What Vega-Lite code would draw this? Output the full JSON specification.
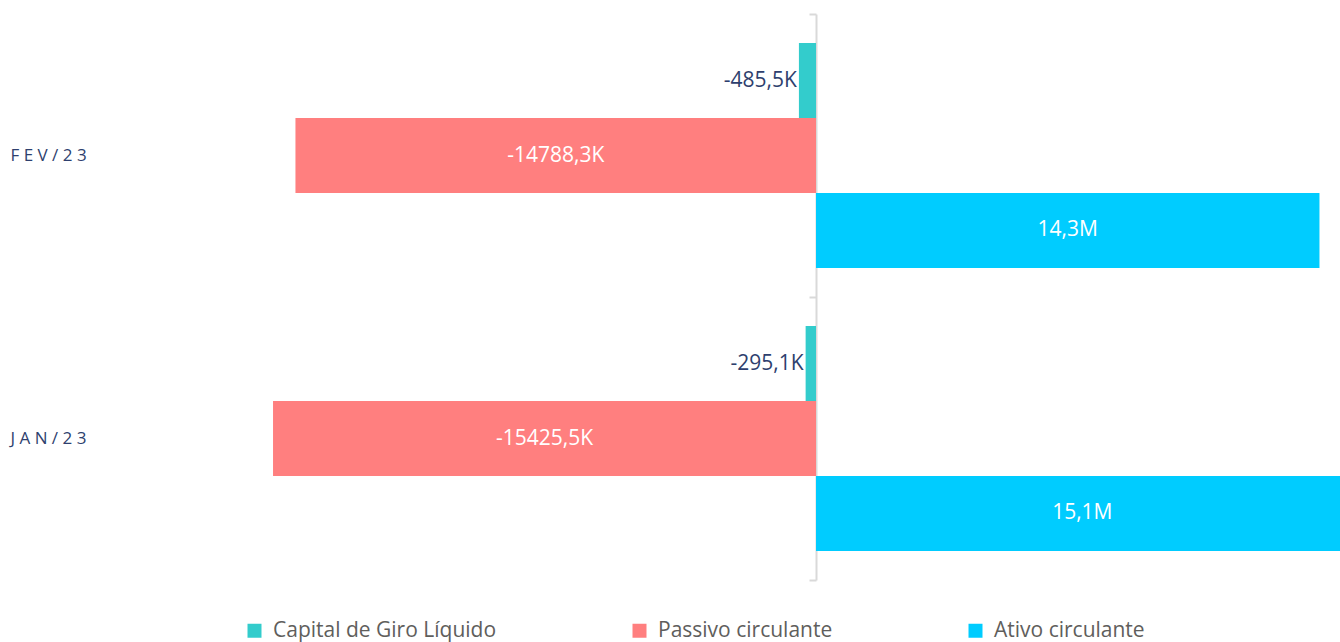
{
  "$schema": "https://vega.github.io/schema/vega-lite/v6.json",
  "autosize": "none",
  "padding": {"left": 100, "top": 14, "right": 0, "bottom": 62},
  "width": 1240,
  "height": 566,
  "background": "white",
  "config": {
    "view": {"stroke": null},
    "font": "Open Sans"
  },
  "data": {
    "values": [
      {"periodo": "FEV/23", "serie": "Capital de Giro Líquido", "valor": -485500, "rotulo": "-485,5K"},
      {"periodo": "FEV/23", "serie": "Passivo circulante", "valor": -14788300, "rotulo": "-14788,3K"},
      {"periodo": "FEV/23", "serie": "Ativo circulante", "valor": 14302800, "rotulo": "14,3M"},
      {"periodo": "JAN/23", "serie": "Capital de Giro Líquido", "valor": -295100, "rotulo": "-295,1K"},
      {"periodo": "JAN/23", "serie": "Passivo circulante", "valor": -15425500, "rotulo": "-15425,5K"},
      {"periodo": "JAN/23", "serie": "Ativo circulante", "valor": 15130400, "rotulo": "15,1M"}
    ]
  },
  "encoding": {
    "y": {
      "field": "periodo",
      "type": "nominal",
      "sort": ["FEV/23", "JAN/23"],
      "scale": {"paddingInner": 0, "paddingOuter": 0},
      "axis": {
        "title": null,
        "offset": -716,
        "domainColor": "#D9D9D9",
        "domainWidth": 2,
        "tickColor": "#D9D9D9",
        "tickWidth": 2,
        "tickSize": 7,
        "tickBand": "extent",
        "labelAlign": "left",
        "labelBaseline": "middle",
        "labelPadding": 799,
        "labelFontSize": 17,
        "labelColor": "#2E3F6E",
        "labelExpr": "replace(datum.label, regexp('(.)(?=.)', 'g'), '$1 ')"
      }
    },
    "yOffset": {
      "field": "serie",
      "type": "nominal",
      "sort": ["Capital de Giro Líquido", "Passivo circulante", "Ativo circulante"],
      "scale": {"paddingInner": 0, "paddingOuter": 0.387}
    }
  },
  "layer": [
    {
      "mark": {"type": "bar", "clip": true},
      "encoding": {
        "x": {
          "field": "valor",
          "type": "quantitative",
          "stack": null,
          "scale": {"domain": [-20341000, 14886000], "nice": false, "zero": false},
          "axis": null
        },
        "color": {
          "field": "serie",
          "type": "nominal",
          "sort": ["Capital de Giro Líquido", "Passivo circulante", "Ativo circulante"],
          "scale": {
            "domain": ["Capital de Giro Líquido", "Passivo circulante", "Ativo circulante"],
            "range": ["#33CCCC", "#FF7F7F", "#00CCFF"]
          },
          "legend": {
            "title": null,
            "orient": "none",
            "direction": "horizontal",
            "legendX": 144,
            "legendY": 606,
            "symbolType": "square",
            "symbolSize": 196,
            "symbolStrokeWidth": 0,
            "labelFontSize": 21,
            "labelLimit": 0,
            "labelColor": "#605E5C",
            "labelOffset": 8,
            "columnPadding": 132,
            "padding": 0
          }
        }
      }
    },
    {
      "transform": [
        {"filter": "datum.serie !== 'Capital de Giro Líquido'"},
        {"calculate": "datum.valor / 2", "as": "meio"}
      ],
      "mark": {"type": "text", "color": "white", "fontSize": 21, "baseline": "middle", "align": "center"},
      "encoding": {
        "x": {"field": "meio", "type": "quantitative"},
        "text": {"field": "rotulo", "type": "nominal"}
      }
    },
    {
      "transform": [{"filter": "datum.serie === 'Capital de Giro Líquido'"}],
      "mark": {"type": "text", "color": "#2E3F6E", "fontSize": 21, "baseline": "middle", "align": "right", "dx": -2},
      "encoding": {
        "x": {"field": "valor", "type": "quantitative", "stack": null},
        "text": {"field": "rotulo", "type": "nominal"}
      }
    }
  ]
}
